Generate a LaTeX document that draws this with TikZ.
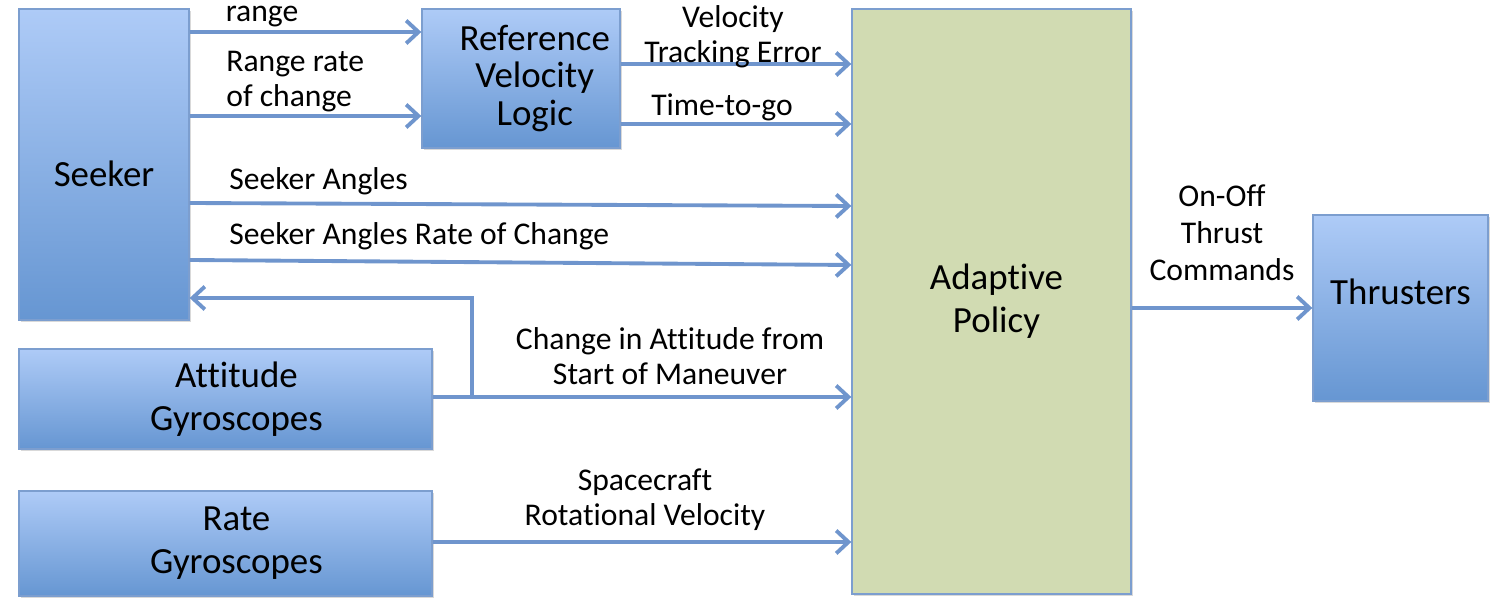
\documentclass[tikz,border=0pt]{standalone}
\usepackage{fontspec}
\setmainfont[Ligatures=NoCommon]{Carlito}
\usetikzlibrary{arrows.meta,positioning,calc,shadows}
\definecolor{SkyTop}{HTML}{AECBF7}
\definecolor{SkyLow}{HTML}{6696D2}
\definecolor{Edge}{HTML}{7C9ECF}
\definecolor{Sage}{HTML}{D1DBB2}
\definecolor{Wire}{HTML}{6F95CD}

\begin{document}
\begin{tikzpicture}[x=0.02cm,y=-0.02cm,
    block/.style={draw=Edge,line width=0.8pt,top color=SkyTop,bottom color=SkyLow,
      align=center,inner sep=0pt,font=\fontsize{21}{24.5}\selectfont,
      drop shadow={shadow xshift=1.2pt,shadow yshift=-1.2pt,opacity=0.3}},
    flow/.style={draw=Wire,line width=2.2pt,-{Straight Barb[length=7pt,width=13pt]}},
    lbl/.style={font=\fontsize{18}{20}\selectfont,align=center,inner sep=0pt}]
  \useasboundingbox (0,0) rectangle (1502,614);
  % blocks
  \node[block,minimum width=3.4cm,minimum height=6.22cm] (seeker) at (104,164.5)
    {\raisebox{-0.45cm}[0pt][0pt]{Seeker}};
  \node[block,minimum width=3.96cm,minimum height=2.78cm,font=\fontsize{21}{21.5}\selectfont]
    (ref) at (521,78.5)
    {\hspace*{0.55cm}Reference\\\hspace*{0.55cm}Velocity\\\hspace*{0.55cm}Logic};
  \node[block,minimum width=8.26cm,minimum height=2cm] (att) at (225.5,399)
    {\hspace*{0.44cm}Attitude\\\hspace*{0.44cm}Gyroscopes};
  \node[block,minimum width=8.26cm,minimum height=2.1cm] (rate) at (225.5,543.5)
    {\hspace*{0.44cm}Rate\\\hspace*{0.44cm}Gyroscopes};
  \node[block,top color=Sage,bottom color=Sage,minimum width=5.58cm,minimum height=11.7cm]
    (policy) at (991.5,301.5) {\hspace*{0.2cm}Adaptive\\\hspace*{0.2cm}Policy};
  \node[block,minimum width=3.5cm,minimum height=3.72cm] (thr) at (1400.5,308)
    {\raisebox{0.06cm}[0pt][0pt]{Thrusters}};
  % connectors
  \draw[flow] (seeker.east |- 0,32) -- (ref.west |- 0,32);
  \draw[flow] (seeker.east |- 0,116) -- (ref.west |- 0,116);
  \draw[flow] (ref.east |- 0,64) -- (policy.west |- 0,64);
  \draw[flow] (ref.east |- 0,124) -- (policy.west |- 0,124);
  \draw[flow] (seeker.east |- 0,203) -- (policy.west |- 0,206);
  \draw[flow] (seeker.east |- 0,260) -- (policy.west |- 0,265);
  \draw[flow] (att.east |- 0,397) -- (policy.west |- 0,397);
  \coordinate (tap) at (472,397);
  \draw[flow] (tap) |- (seeker.east |- 0,298);
  \draw[flow] (rate.east |- 0,542) -- (policy.west |- 0,542);
  \draw[flow] (policy.east |- thr.west) -- (thr.west);
  % labels
  \node[lbl] (lrange) at (262,17) {range};
  \node[lbl,align=left,anchor=west] (lrate) at (226,82) {Range rate\\of change};
  \node[lbl] (lvte) at (733,37) {Velocity\\Tracking Error};
  \node[lbl] (ltgo) at (722,107) {Time-to-go};
  \node[lbl,anchor=west] (lang) at (229,181) {Seeker Angles};
  \node[lbl,anchor=west] (langr) at (229,236) {Seeker Angles Rate of Change};
  \node[lbl] (latt) at (670,356) {Change in Attitude from\\Start of Maneuver};
  \node[lbl] (lrot) at (645,500) {Spacecraft\\Rotational Velocity};
  \node[lbl,font=\fontsize{18}{21}\selectfont] (lcmd) at (1222,233) {On-Off\\Thrust\\Commands};
\end{tikzpicture}
\end{document}
